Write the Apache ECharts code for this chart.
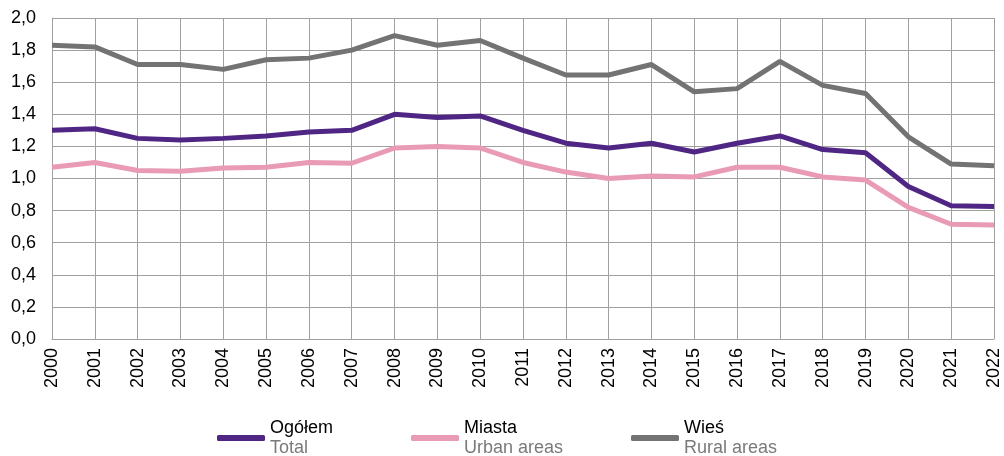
<!DOCTYPE html>
<html>
<head>
<meta charset="utf-8">
<script src="https://cdn.jsdelivr.net/npm/echarts@6/dist/echarts.min.js"></script>
<style>
  html, body { margin: 0; padding: 0; background: #fff; }
  #chart { width: 1004px; height: 456px; }
</style>
</head>
<body>
<div id="chart"></div>
<script>
var years = ['2000', '2001', '2002', '2003', '2004', '2005', '2006', '2007', '2008', '2009', '2010',
  '2011', '2012', '2013', '2014', '2015', '2016', '2017', '2018', '2019', '2020', '2021', '2022'];
var total = [1.30, 1.31, 1.25, 1.24, 1.25, 1.265, 1.29, 1.30, 1.40, 1.38, 1.39,
  1.30, 1.22, 1.19, 1.22, 1.165, 1.22, 1.265, 1.18, 1.16, 0.95, 0.83, 0.825];
var urban = [1.07, 1.10, 1.05, 1.045, 1.065, 1.07, 1.10, 1.095, 1.19, 1.20, 1.19,
  1.10, 1.04, 1.00, 1.015, 1.01, 1.07, 1.07, 1.01, 0.99, 0.82, 0.715, 0.71];
var rural = [1.83, 1.82, 1.71, 1.71, 1.68, 1.74, 1.75, 1.80, 1.89, 1.83, 1.86,
  1.75, 1.645, 1.645, 1.71, 1.54, 1.56, 1.73, 1.58, 1.53, 1.26, 1.09, 1.08];
var seriesNames = ['Ogółem', 'Miasta', 'Wieś'];
var seriesSub = { 'Ogółem': 'Total', 'Miasta': 'Urban areas', 'Wieś': 'Rural areas' };
var colors = ['#4f2683', '#e99ab4', '#737373'];

var chartDom = document.getElementById('chart');
var myChart = echarts.init(chartDom);
var option;

var font = 'Liberation Sans, Arial, sans-serif';

function makeLegend(name, left) {
  return {
    data: [name],
    left: left,
    top: 414,
    icon: 'roundRect',
    itemWidth: 48,
    itemHeight: 6,
    itemGap: 0,
    formatter: function (n) {
      return '{a|' + n + '}\n{b|' + seriesSub[n] + '}';
    },
    textStyle: {
      rich: {
        a: { color: '#000', fontSize: 18, fontFamily: font, lineHeight: 20 },
        b: { color: '#7a7a7a', fontSize: 18, fontFamily: font, lineHeight: 20 }
      }
    }
  };
}

option = {
  animation: false,
  textStyle: { fontFamily: font },
  legend: [
    makeLegend('Ogółem', 212),
    makeLegend('Miasta', 406),
    makeLegend('Wieś', 626)
  ],
  grid: { left: 52, right: 10, top: 18, bottom: 117 },
  xAxis: {
    type: 'category',
    data: years,
    boundaryGap: false,
    axisLine: { lineStyle: { color: '#a0a0a0', width: 1 } },
    axisTick: { show: false },
    axisLabel: {
      rotate: 90,
      color: '#000',
      fontSize: 18,
      fontFamily: font,
      margin: 9,
      interval: 0
    },
    splitLine: { show: true, lineStyle: { color: '#a0a0a0', width: 1 } }
  },
  yAxis: {
    type: 'value',
    min: 0,
    max: 2,
    interval: 0.2,
    axisLine: { show: true, lineStyle: { color: '#a0a0a0', width: 1 } },
    axisTick: { show: false },
    axisLabel: {
      color: '#000',
      fontSize: 18,
      fontFamily: font,
      margin: 16,
      formatter: function (v) { return v.toFixed(1).replace('.', ','); }
    },
    splitLine: { lineStyle: { color: '#a0a0a0', width: 1 } }
  },
  series: [
    { name: seriesNames[0], type: 'line', data: total, color: colors[0] },
    { name: seriesNames[1], type: 'line', data: urban, color: colors[1] },
    { name: seriesNames[2], type: 'line', data: rural, color: colors[2] }
  ].map(function (s) {
    s.showSymbol = false;
    s.symbol = 'none';
    s.lineStyle = { width: 5, color: s.color };
    return s;
  })
};

option && myChart.setOption(option);
</script>
</body>
</html>
